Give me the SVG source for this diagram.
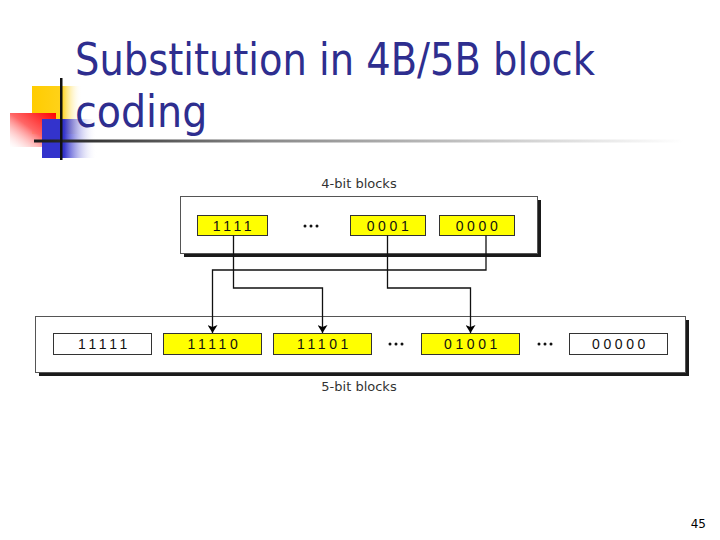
<svg xmlns="http://www.w3.org/2000/svg" width="720" height="540" viewBox="0 0 720 540">
<defs>
<linearGradient id="gy" x1="0" y1="0" x2="1" y2="0"><stop offset="0" stop-color="#FFCC00"/><stop offset="0.6" stop-color="#FFD21A"/><stop offset="1" stop-color="#FFFFFF" stop-opacity="0"/></linearGradient>
<linearGradient id="gr" x1="1" y1="0" x2="0" y2="1"><stop offset="0" stop-color="#FF0000"/><stop offset="0.5" stop-color="#FF6666"/><stop offset="1" stop-color="#FFFFFF" stop-opacity="0.3"/></linearGradient>
<linearGradient id="gb" x1="0" y1="0" x2="1" y2="0"><stop offset="0" stop-color="#3333CC"/><stop offset="0.4" stop-color="#3333CC"/><stop offset="1" stop-color="#FFFFFF" stop-opacity="0"/></linearGradient>
<linearGradient id="gl" x1="0" y1="0" x2="1" y2="0"><stop offset="0" stop-color="#1A1A1A"/><stop offset="0.35" stop-color="#888888"/><stop offset="1" stop-color="#FFFFFF"/></linearGradient>
<marker id="ah" viewBox="0 0 8 10" refX="8" refY="5" markerWidth="8" markerHeight="10" markerUnits="userSpaceOnUse" orient="auto"><path d="M0,0 L8,5 L0,10 L2,5 Z" fill="#000"/></marker>
</defs>
<style>
.title{font-family:"DejaVu Sans Condensed","Liberation Sans",sans-serif;font-size:44px;fill:#2E2E8F}
.outer{fill:#FFFFFF;stroke:#555;stroke-width:1}
.shadow{fill:#1A1A1A}
.yb{fill:#FFFF00;stroke:#333;stroke-width:1}
.wb{fill:#FFFFFF;stroke:#333;stroke-width:1}
.bt{font-family:"Liberation Sans","DejaVu Sans",sans-serif;font-size:14px;letter-spacing:3.6px;fill:#111;text-anchor:middle}
.lab{font-family:"DejaVu Sans","Liberation Sans",sans-serif;font-size:13px;fill:#333;text-anchor:middle}
.conn{fill:none;stroke:#111;stroke-width:1.3}
.dot{fill:#111}
</style>
<g id="decoration">
<rect x="32" y="86" width="50" height="48" fill="url(#gy)"/>
<rect x="10" y="113" width="46" height="34" fill="url(#gr)"/>
<rect x="42" y="119" width="55" height="39" fill="url(#gb)"/>
<rect x="34" y="139.5" width="650" height="3" fill="url(#gl)"/>
<rect x="60" y="78" width="2.5" height="82" fill="#111"/>
</g>
<g id="title">
<text class="title" x="75" y="75" textLength="520" lengthAdjust="spacingAndGlyphs">Substitution in 4B/5B block</text>
<text class="title" x="75" y="127">coding</text>
</g>
<g id="top-frame">
<rect class="shadow" x="184" y="200" width="357" height="57"/>
<rect class="outer" x="180.5" y="196.5" width="357" height="57"/>
<text class="lab" x="359" y="188">4-bit blocks</text>
</g>
<g id="bottom-frame">
<rect class="shadow" x="39" y="320" width="650" height="56"/>
<rect class="outer" x="35.5" y="316.5" width="650" height="56"/>
<text class="lab" x="359" y="391">5-bit blocks</text>
</g>
<g id="b4-1111"><rect class="yb" x="197.5" y="215.5" width="70" height="20"/><text class="bt" x="234" y="230.5">1111</text></g>
<g id="dots-top"><circle class="dot" cx="305" cy="226" r="1.5"/><circle class="dot" cx="311" cy="226" r="1.5"/><circle class="dot" cx="317" cy="226" r="1.5"/></g>
<g id="b4-0001"><rect class="yb" x="350.5" y="215.5" width="75" height="20"/><text class="bt" x="389.5" y="230.5">0001</text></g>
<g id="b4-0000"><rect class="yb" x="439.5" y="215.5" width="75" height="20"/><text class="bt" x="478.5" y="230.5">0000</text></g>
<g id="b5-11111"><rect class="wb" x="53.5" y="333.5" width="98" height="21"/><text class="bt" x="104.5" y="349">11111</text></g>
<g id="b5-11110"><rect class="yb" x="163.5" y="333.5" width="98" height="21"/><text class="bt" x="214.5" y="349">11110</text></g>
<g id="b5-11101"><rect class="yb" x="273.5" y="333.5" width="98" height="21"/><text class="bt" x="324.5" y="349">11101</text></g>
<g id="dots-b1"><circle class="dot" cx="390" cy="344" r="1.5"/><circle class="dot" cx="396" cy="344" r="1.5"/><circle class="dot" cx="402" cy="344" r="1.5"/></g>
<g id="b5-01001"><rect class="yb" x="421.5" y="333.5" width="98" height="21"/><text class="bt" x="472.5" y="349">01001</text></g>
<g id="dots-b2"><circle class="dot" cx="539" cy="344" r="1.5"/><circle class="dot" cx="545" cy="344" r="1.5"/><circle class="dot" cx="551" cy="344" r="1.5"/></g>
<g id="b5-00000"><rect class="wb" x="569.5" y="333.5" width="98" height="21"/><text class="bt" x="620.5" y="349">00000</text></g>
<g id="connectors">
<path class="conn" d="M486,235.5 V270 H212.5 V333" marker-end="url(#ah)"/>
<path class="conn" d="M233.5,235.5 V288 H322.5 V333" marker-end="url(#ah)"/>
<path class="conn" d="M387.5,235.5 V288 H470.5 V333" marker-end="url(#ah)"/>
</g>
<g id="page-number"><text x="706" y="528" font-family="'DejaVu Sans','Liberation Sans',sans-serif" font-size="12" fill="#000" text-anchor="end">45</text></g>
</svg>
